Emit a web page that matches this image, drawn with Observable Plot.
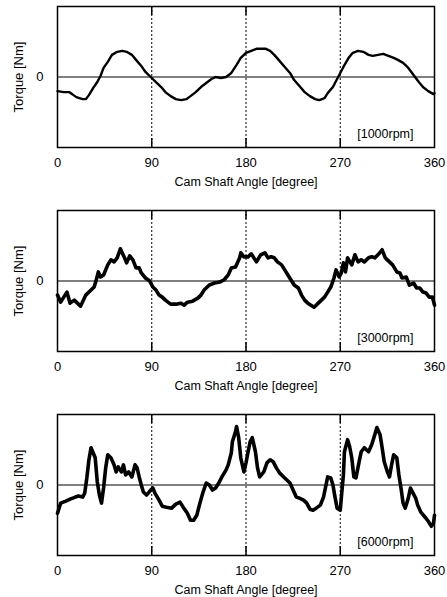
<!DOCTYPE html>
<html><head><meta charset="utf-8">
<script src="https://cdn.jsdelivr.net/npm/d3@7"></script>
<script src="https://cdn.jsdelivr.net/npm/@observablehq/plot@0.6"></script>
<style>
body{margin:0;background:#fff;font-family:"Liberation Sans",Arial,sans-serif}
svg{display:block}
</style>
</head><body><div id="chart"></div>
<script>
const xTicks = [0, 90, 180, 270, 360];
const guideAngles = [90, 180, 270];
const xTitle = "Cam Shaft Angle [degree]";
const yTitle = "Torque [Nm]";

// 1000 rpm
const angle1 = [0,6,11,14,18,24,27,30,34,38, 41,44,48,52,57,62,66,71,75,80, 84,89,94,99,103,108,113,118,123,127, 132,137,142,147,151,156,161,166,171,175, 180,185,190,194,199,203,207,212,217,222, 226,231,236,241,246,250,255,258,263,268, 273,278,282,287,292,297,301,306,311,316, 321,325,330,335,340,345,349,354,359,360];
const torque1 = [-14,-15,-15,-17,-20,-22,-22,-18,-11,-5, 1,9,15,22,25,26,25,22,17,11, 5,0,-5,-10,-15,-19,-22,-23,-22,-19, -15,-10,-6,-2,0,-1,0,4,12,19, 24,26,28,28,28,26,22,16,10,4, -3,-9,-15,-19,-22,-23,-21,-16,-10,0, 10,19,24,26,25,22,21,22,23,21, 19,17,14,9,2,-5,-10,-14,-17,-16];

// 3000 rpm
const angle2 = [0,3,9,12,16,19,22,27,32,35, 37,39,41,44,48,51,54,57,60,64, 66,69,72,75,78,80,84,88,91,94, 97,100,103,108,113,118,121,124,129,134, 137,140,145,150,155,159,163,166,170,174, 175,178,182,185,190,194,198,201,204,207, 210,214,217,220,223,226,230,233,236,239, 242,245,249,252,255,258,261,264,266,269, 271,273,275,277,281,284,287,290,293,297, 300,303,306,310,313,317,320,324,327,329, 333,336,340,343,346,349,352,355,358,360];
const torque2 = [-14,-21,-11,-22,-19,-22,-25,-14,-9,-6, 1,9,4,6,16,21,19,23,32,23, 18,25,21,13,13,8,3,0,-6,-9, -14,-16,-19,-23,-23,-22,-24,-21,-20,-17, -14,-9,-4,-2,-1,1,6,13,14,23, 28,24,24,27,19,26,28,23,24,23, 19,16,11,6,1,-4,-7,-14,-19,-22, -24,-26,-22,-19,-16,-11,-6,3,11,4, 8,18,9,23,16,26,19,21,19,23, 24,23,26,31,23,19,16,9,8,3, 4,-4,-2,-7,-7,-11,-12,-16,-16,-24];

// 6000 rpm
const angle3 = [0,3,8,12,17,20,24,26,28,30, 32,36,38,40,42,44,46,48,51,54, 56,58,61,63,65,68,71,74,76,78, 80,82,85,89,91,93,97,100,104,109, 113,117,120,124,127,130,133,136,139,142, 145,148,151,154,157,161,163,166,167,170, 171,173,175,178,180,182,184,186,189,191, 193,197,200,203,206,209,212,216,219,222, 225,228,231,235,238,241,244,247,251,254, 256,258,261,263,265,267,270,271,273,274, 277,279,281,283,285,288,290,293,297,300, 303,305,308,310,312,315,317,319,321,324, 326,328,330,332,335,337,339,342,344,347, 351,354,357,359,360];
const torque3 = [-28,-18,-16,-14,-12,-11,-12,-8,7,25, 37,27,3,-10,-18,-3,17,30,27,20, 13,18,13,20,10,13,8,20,17,8, 0,-7,-10,-5,-3,-8,-15,-21,-22,-23, -19,-17,-22,-28,-35,-35,-30,-18,-7,2, 0,-5,-3,2,8,15,20,32,43,53, 58,47,27,13,22,33,43,47,33,17, 8,13,22,25,23,17,12,8,5,2, -5,-12,-13,-15,-18,-24,-25,-23,-20,-12, -2,8,7,0,-12,-23,-25,-13,10,33, 45,38,27,8,7,23,33,37,33,40, 50,57,50,37,23,13,8,20,30,27, 10,-3,-18,-23,-13,-3,-7,-13,-20,-27, -32,-36,-41,-38,-30];

const panels = [
  {angle: angle1, torque: torque1, label: "[1000rpm]", sw: 2.4, height: 204, mb: 57},
  {angle: angle2, torque: torque2, label: "[3000rpm]", sw: 3.6, height: 204, mb: 57},
  {angle: angle3, torque: torque3, label: "[6000rpm]", sw: 3.6, height: 189, mb: 42}
];

const frameH = 141;

function panel(p) {
  const data = p.angle.map((a, i) => ({a, t: p.torque[i]}));
  return Plot.plot({
    width: 447, height: p.height,
    marginLeft: 57, marginRight: 13, marginTop: 6, marginBottom: p.mb,
    style: {fontFamily: "Liberation Sans, Arial, sans-serif", fontSize: "13px", color: "#000", background: "#fff"},
    x: {domain: [0, 360], ticks: xTicks, tickSize: 0, tickPadding: 10, label: null},
    y: {domain: [-70, 70], ticks: [0], tickSize: 0, tickPadding: 14, label: yTitle, labelAnchor: "center", labelArrow: "none", labelOffset: 44},
    marks: [
      Plot.ruleX(guideAngles, {stroke: "#000", strokeWidth: 1, strokeDasharray: "2,2"}),
      Plot.ruleX(guideAngles, {stroke: "#000", strokeWidth: 1.5, insetBottom: frameH - 9}),
      Plot.ruleX(guideAngles, {stroke: "#000", strokeWidth: 1.5, insetTop: frameH - 9}),
      Plot.ruleY([0], {stroke: "#000", strokeWidth: 1.2}),
      Plot.line(data, {x: "a", y: "t", stroke: "#000", strokeWidth: p.sw, strokeLinejoin: "round"}),
      Plot.frame({stroke: "#000", strokeWidth: 1.5}),
      Plot.text([p.label], {text: d => d, frameAnchor: "bottom-right", dx: -21, dy: -14, textAnchor: "end", lineAnchor: "middle", fontSize: 12.5}),
      Plot.text([xTitle], {text: d => d, frameAnchor: "bottom", dy: 34, textAnchor: "middle", lineAnchor: "middle", fontSize: 12.5})
    ]
  });
}

const root = document.getElementById("chart");
for (const p of panels) root.appendChild(panel(p));
</script>
</body></html>
